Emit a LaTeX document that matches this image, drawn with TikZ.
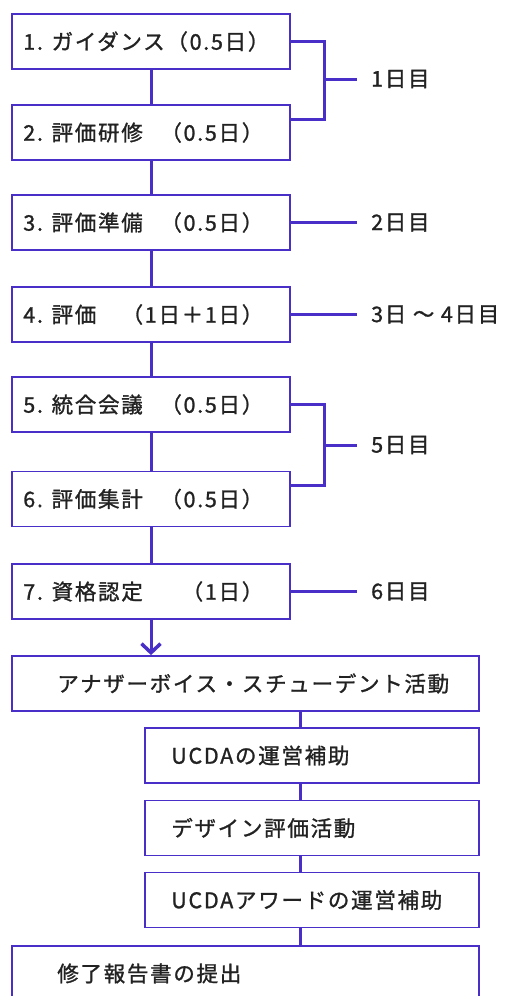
\documentclass[tikz,border=0pt]{standalone}
\usepackage{fontspec}
\setmainfont{Noto Sans CJK JP}[LetterSpace=8, FakeBold=1.2]
\usetikzlibrary{arrows.meta,calc}
\definecolor{flow}{HTML}{4A2EC8}
\definecolor{ink}{HTML}{222222}
\begin{document}
\begin{tikzpicture}[x=1pt,y=-1pt,
  box/.style={draw=flow, line width=1.8pt, rectangle, inner sep=0pt},
  sbox/.style={box, minimum width=278pt, minimum height=55pt},
  wbox/.style={box, minimum width=467pt, minimum height=55pt},
  nbox/.style={box, minimum width=334pt, minimum height=55pt},
  txt/.style={anchor=west, inner sep=0pt, font=\fontsize{21.5}{25}\selectfont, text=ink},
  lbl/.style={anchor=west, inner xsep=14pt, inner ysep=0pt, font=\fontsize{21.5}{25}\selectfont, text=ink},
  conn/.style={draw=flow, line width=3pt},
  ]
\useasboundingbox (0,0) rectangle (504,996);
\clip (0,0) rectangle (504,996);
% boxes
\node[sbox] (b1) at (151,41.5) {};
\node[sbox] (b2) at (151,132.5) {};
\node[sbox] (b3) at (151,222.5) {};
\node[sbox] (b4) at (151,314.5) {};
\node[sbox] (b5) at (151,404.5) {};
\node[sbox] (b6) at (151,499) {};
\node[sbox] (b7) at (151,591.5) {};
\node[wbox] (bA) at (245.5,683.5) {};
\node[nbox] (bB) at (312,755.5) {};
\node[nbox] (bC) at (312,828) {};
\node[nbox] (bD) at (312,900) {};
\node[wbox] (bE) at (245.5,973.5) {};
% texts
\node[txt] (t1) at ($(b1.west)+(12,0)$) {1. ガイダンス（0.5日）};
\node[txt] (t2) at ($(b2.west)+(12,0)$) {\makebox[240pt][l]{2. 評価研修\hfill（0.5日）}};
\node[txt] (t3) at ($(b3.west)+(12,0)$) {\makebox[240pt][l]{3. 評価準備\hfill（0.5日）}};
\node[txt] (t4) at ($(b4.west)+(12,0)$) {\makebox[240pt][l]{4. 評価\hfill（1日＋1日）}};
\node[txt] (t5) at ($(b5.west)+(12,0)$) {\makebox[240pt][l]{5. 統合会議\hfill（0.5日）}};
\node[txt] (t6) at ($(b6.west)+(12,0)$) {\makebox[240pt][l]{6. 評価集計\hfill（0.5日）}};
\node[txt] (t7) at ($(b7.west)+(12,0)$) {\makebox[240pt][l]{7. 資格認定\hfill（1日）}};
\node[txt] (tA) at ($(bA.west)+(46,0)$) {アナザーボイス・スチューデント活動};
\node[txt] (tB) at ($(bB.west)+(27,0)$) {UCDAの運営補助};
\node[txt] (tC) at ($(bC.west)+(27,0)$) {デザイン評価活動};
\node[txt] (tD) at ($(bD.west)+(27,0)$) {UCDAアワードの運営補助};
\node[txt] (tE) at ($(bE.west)+(46,0)$) {修了報告書の提出};
% day labels
\node[lbl] (l1) at (357,79) {1日目};
\node[lbl] (l3) at (357,222.5) {2日目};
\node[lbl] (l4) at (357,314.5) {3日 〜 4日目};
\node[lbl] (l5) at (357,445) {5日目};
\node[lbl] (l7) at (357,591.5) {6日目};
\coordinate (m1) at (324,79);
\coordinate (m5) at (324,445);
\coordinate (cx) at (300,0);
% main flow
\draw[conn] (b1.south) -- (b2.north);
\draw[conn] (b2.south) -- (b3.north);
\draw[conn] (b3.south) -- (b4.north);
\draw[conn] (b4.south) -- (b5.north);
\draw[conn] (b5.south) -- (b6.north);
\draw[conn] (b6.south) -- (b7.north);
\draw[conn, -{Straight Barb[length=9pt,width=19pt,line width=3.5pt]}] (b7.south) -- (b7.south |- bA.north);
\draw[conn] (bA.south -| cx) -- (bB.north -| cx);
\draw[conn] (bB.south -| cx) -- (bC.north -| cx);
\draw[conn] (bC.south -| cx) -- (bD.north -| cx);
\draw[conn] (bD.south -| cx) -- (bE.north -| cx);
% day brackets
\draw[conn] (b1.east) -| ($(b2.north east)+(34,15)$) -- ($(b2.north east)+(0,15)$);
\draw[conn] (m1) -- (l1.west);
\draw[conn] (b3.east) -- (l3.west);
\draw[conn] (b4.east) -- (l4.west);
\draw[conn] (b5.east) -| ($(b6.north east)+(34,15)$) -- ($(b6.north east)+(0,15)$);
\draw[conn] (m5) -- (l5.west);
\draw[conn] (b7.east) -- (l7.west);
\end{tikzpicture}
\end{document}
